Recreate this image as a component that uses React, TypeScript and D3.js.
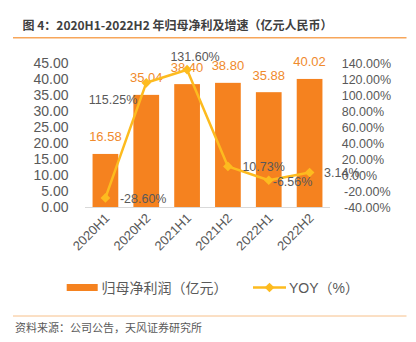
import React from "react";
import * as d3 from "d3";

const categories = ["2020H1", "2020H2", "2021H1", "2021H2", "2022H1", "2022H2"];
const profit = [16.58, 35.04, 38.4, 38.8, 35.88, 40.02];
const yoy = [-28.6, 115.25, 131.6, 10.73, -6.56, 3.14];
const leftTicks = [0, 5, 10, 15, 20, 25, 30, 35, 40, 45];
const rightTicks = [-40, -20, 0, 20, 40, 60, 80, 100, 120, 140];
const yoyLabelSide = ["right", "leftBelow", "top", "right", "rightNear", "right"];

const W = 416;
const H = 342;
const FONT = "'Liberation Sans', Arial, 'Noto Sans CJK SC', sans-serif";
const CJK = "'Noto Sans CJK SC', 'Liberation Sans', sans-serif";
const BAR = "#F5821F";
const LINE = "#FDBB1F";
const GRAY = "#595959";

export default function App() {
  const x = d3.scaleBand<string>().domain(categories).range([85, 330]).paddingInner(0.37).paddingOuter(0.185);
  const yL = d3.scaleLinear().domain([0, 45]).range([207, 63]);
  const yR = d3.scaleLinear().domain([-40, 140]).range([207, 63]);
  const cx = (c: string) => (x(c) as number) + x.bandwidth() / 2;

  const line = d3
    .line<number>()
    .x((_, i) => cx(categories[i]))
    .y((d) => yR(d));

  const diamond = d3.symbol().type(d3.symbolDiamond2).size(60)() as string;

  const yoyLabel = (v: number, i: number) => {
    const px = cx(categories[i]);
    const py = yR(v);
    const side = yoyLabelSide[i];
    let tx = px + 14.5;
    let ty = py + 5;
    let anchor: "start" | "middle" | "end" = "start";
    if (side === "leftBelow") {
      tx = px - 9;
      ty = py + 21;
      anchor = "end";
    } else if (side === "top") {
      tx = px + 8;
      ty = py - 9;
      anchor = "middle";
    } else if (side === "rightNear") {
      tx = px + 4;
      ty = py + 6;
    }
    return (
      <text key={"yl" + i} x={tx} y={ty} textAnchor={anchor} fontSize={12.5} fill={GRAY} fontFamily={FONT}>
        {v.toFixed(2) + "%"}
      </text>
    );
  };

  return (
    <div style={{ position: "absolute", left: 0, top: 0 }}>
      <svg width={W} height={H} style={{ display: "block", background: "#fff" }}>
        <text x={22.5} y={29.5} fontSize={12} fontWeight="bold" fill="#404040" fontFamily={CJK}>
          图 4：2020H1-2022H2 年归母净利及增速（亿元人民币）
        </text>
        <line x1={13} x2={406.5} y1={37.7} y2={37.7} stroke="#F7A65A" strokeWidth={1.5} />

        {leftTicks.map((t) => (
          <text key={"l" + t} x={68.5} y={yL(t) + 5} textAnchor="end" fontSize={14} fill={GRAY} fontFamily={FONT}>
            {t.toFixed(2)}
          </text>
        ))}
        {rightTicks.map((t) => (
          <text key={"r" + t} x={t < 0 ? 344 : 341.7} y={yR(t) + 4.5} textAnchor="start" fontSize={12.5} fill={GRAY} fontFamily={FONT}>
            {(t < 0 ? "-" : "") + Math.abs(t).toFixed(2) + "%"}
          </text>
        ))}

        {categories.map((c, i) => (
          <rect key={"b" + c} x={x(c)} y={yL(profit[i])} width={x.bandwidth()} height={yL(0) - yL(profit[i])} fill={BAR} />
        ))}
        <line x1={85} x2={330} y1={207.5} y2={207.5} stroke="#D9D9D9" strokeWidth={1} />

        {categories.map((c, i) => (
          <text key={"bl" + c} x={cx(c)} y={yL(profit[i]) - 12.5} textAnchor="middle" fontSize={13} fill="#F08A2C" fontFamily={FONT}>
            {profit[i].toFixed(2)}
          </text>
        ))}

        <path d={line(yoy) as string} fill="none" stroke={LINE} strokeWidth={2.5} strokeLinejoin="round" />
        {yoy.map((v, i) => (
          <path key={"m" + i} d={diamond} transform={`translate(${cx(categories[i])},${yR(v)})`} fill={LINE} />
        ))}
        {yoy.map(yoyLabel)}

        {categories.map((c) => (
          <text
            key={"x" + c}
            transform={`translate(${cx(c) + 5},${219}) rotate(-45)`}
            textAnchor="end"
            fontSize={13}
            fill={GRAY}
            fontFamily={FONT}
          >
            {c}
          </text>
        ))}

        <rect x={66.7} y={284} width={31} height={7} fill={BAR} />
        <text x={101.5} y={293} fontSize={14} fill={GRAY} fontFamily={CJK}>
          归母净利润（亿元）
        </text>
        <line x1={253} x2={286} y1={287.5} y2={287.5} stroke={LINE} strokeWidth={2.5} />
        <path d={diamond} transform="translate(269.5,287.5)" fill={LINE} />
        <text x={289} y={293} fontSize={14} fill={GRAY} fontFamily={FONT}>
          YOY（%）
        </text>

        <line x1={13} x2={406.5} y1={316} y2={316} stroke="#F7C08A" strokeWidth={1} />
        <text x={15} y={332} fontSize={11} fill={GRAY} fontFamily={CJK}>
          资料来源：公司公告，天风证券研究所
        </text>
      </svg>
    </div>
  );
}
